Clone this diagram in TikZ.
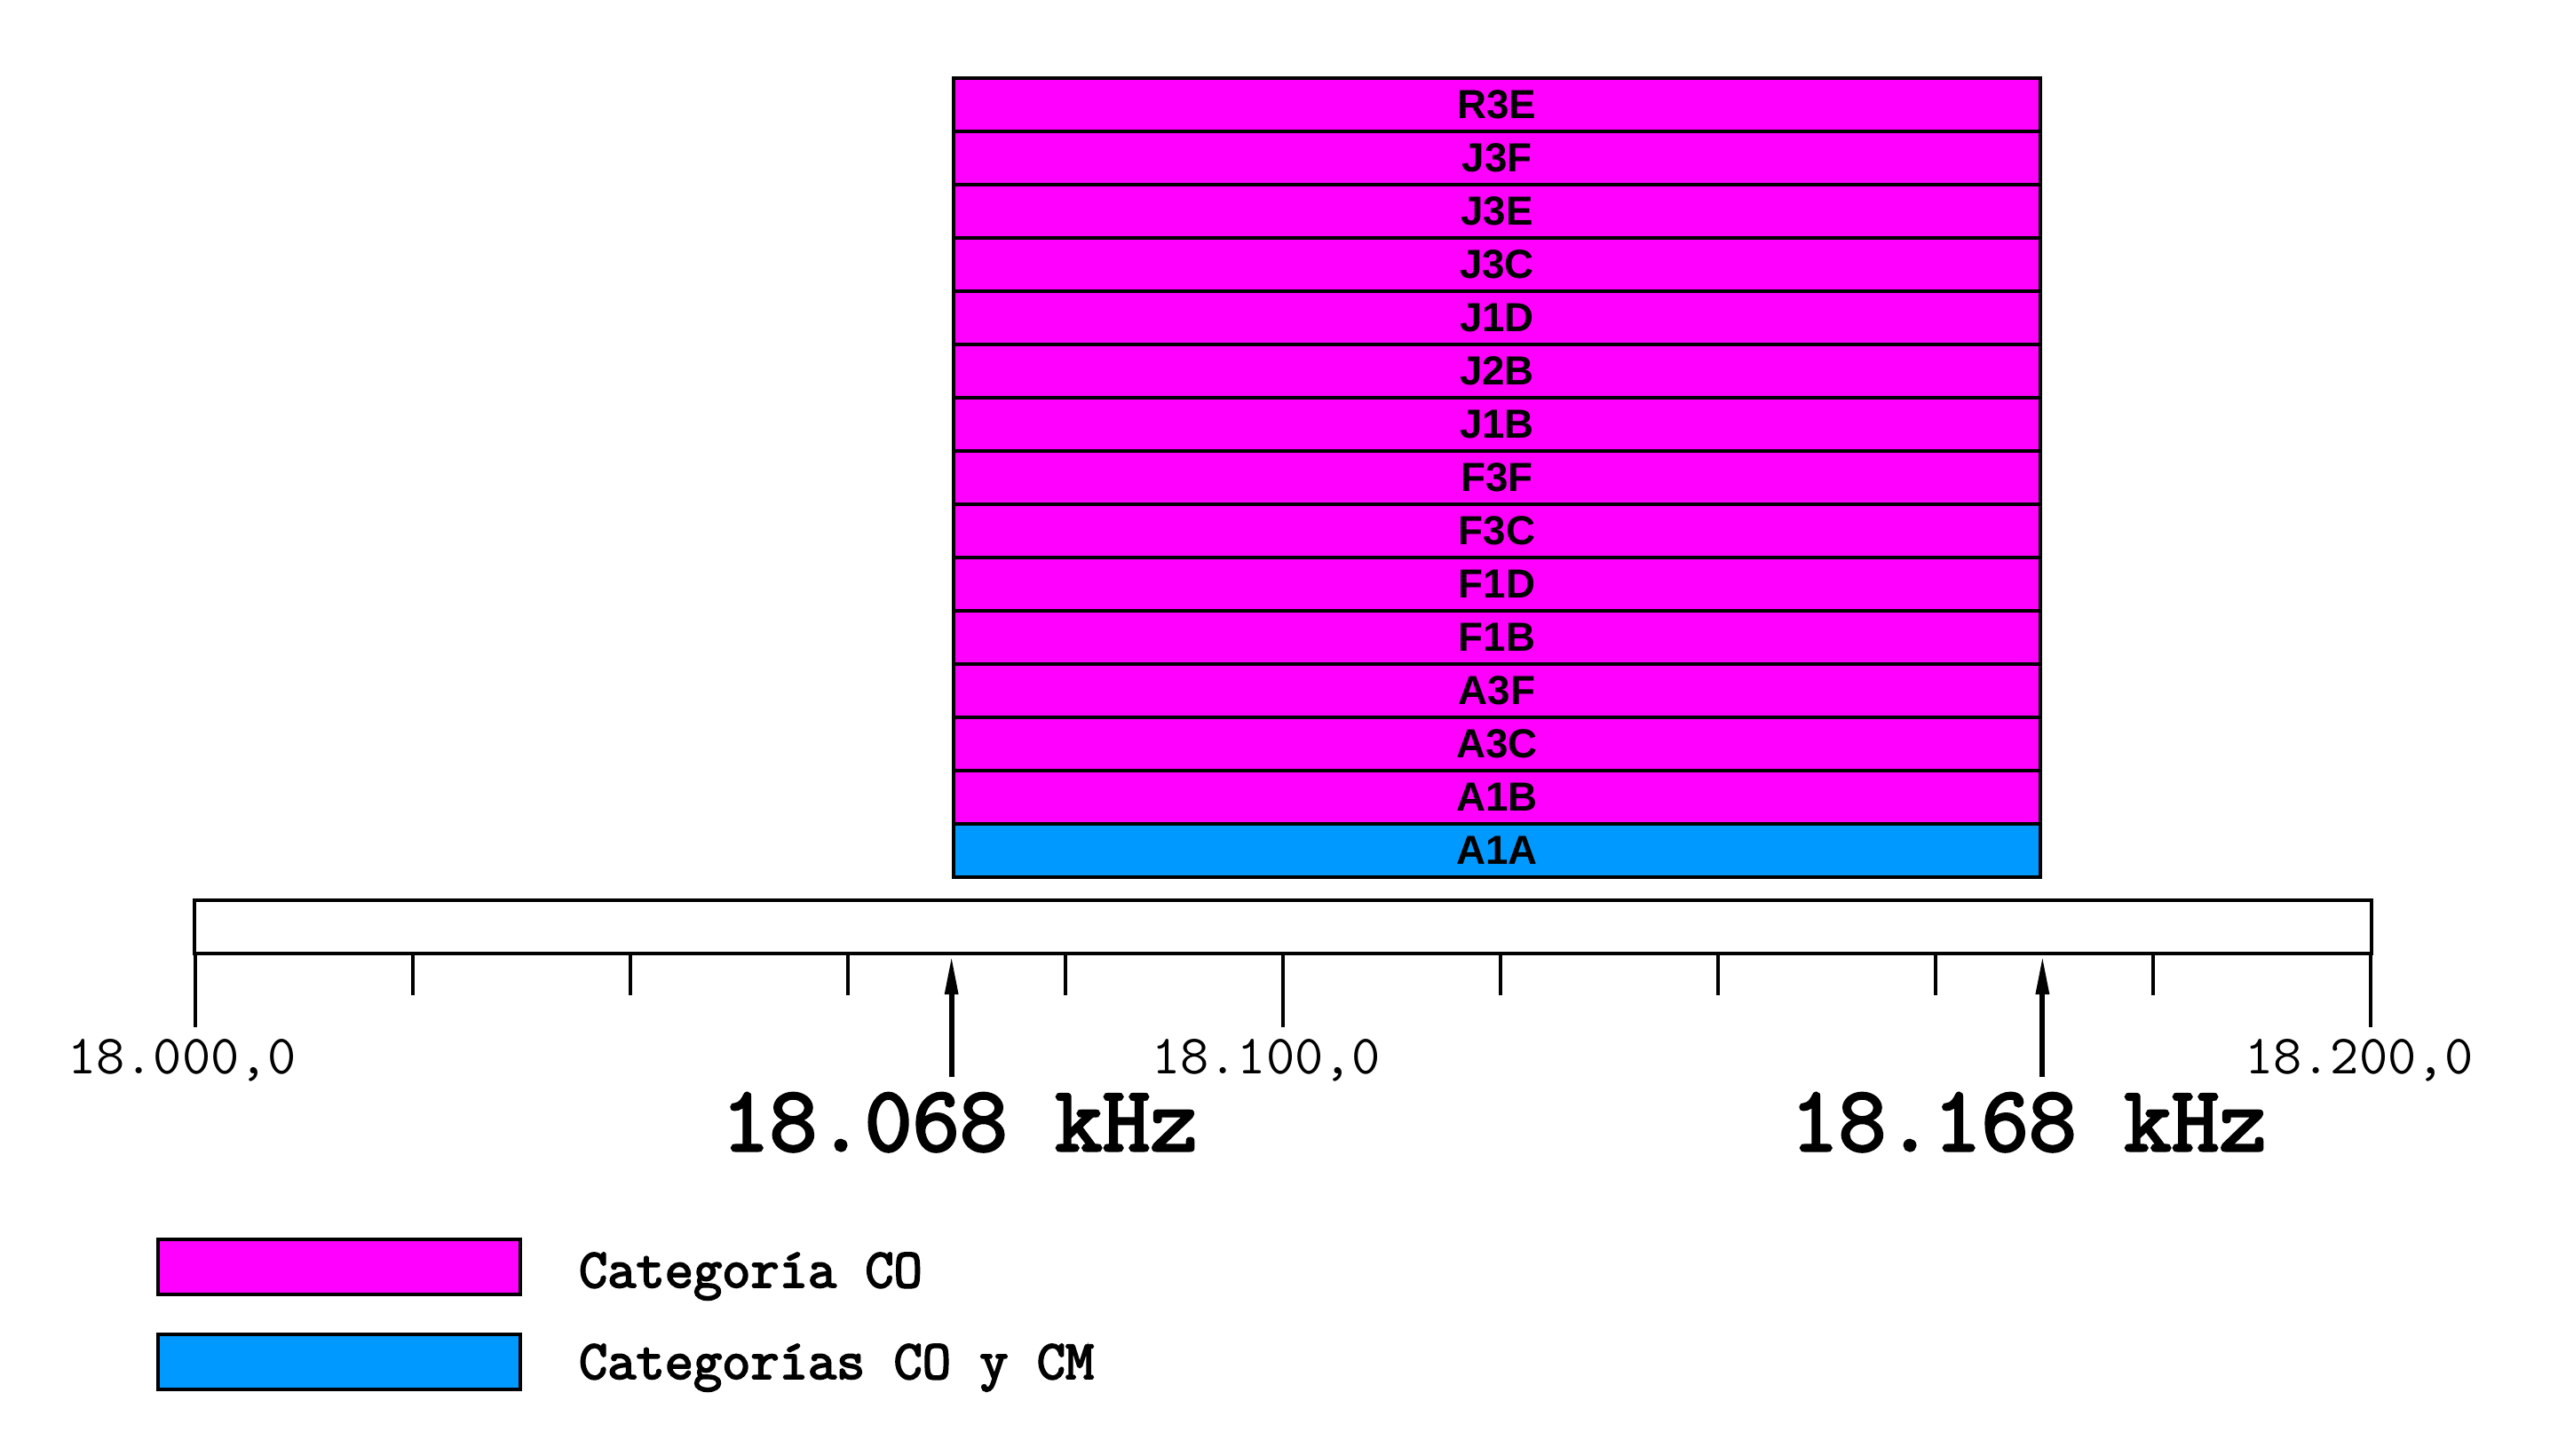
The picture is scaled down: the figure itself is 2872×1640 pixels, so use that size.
\documentclass[tikz,border=0pt]{standalone}
\usepackage{fontspec}
\setmainfont{Liberation Sans}
\setmonofont{Latin Modern Mono}[AutoFakeBold=3]
\usetikzlibrary{arrows.meta, positioning}
\definecolor{cocolor}{HTML}{FF00FF}
\definecolor{cmcolor}{HTML}{0099FF}

\begin{document}
\begin{tikzpicture}[
        x=0.01cm, y=-0.01cm,
        line width=0.04cm,
        band/.style={draw, fill=cocolor, minimum width=12.24cm, minimum height=0.6cm, inner sep=0pt, font=\bfseries\fontsize{13}{15}\selectfont},
        axislabel/.style={anchor=base, inner sep=0pt, font=\ttfamily\fontsize{17.8}{20}\selectfont},
        freqlabel/.style={anchor=base, inner sep=0pt, font=\ttfamily\bfseries\fontsize{29.6}{34}\selectfont},
        legendtext/.style={anchor=base west, inner sep=0pt, font=\ttfamily\bfseries\fontsize{17.8}{20}\selectfont}
        ]
        \useasboundingbox (0,0) rectangle (2872,1640);

        % emission classes
        \foreach \lab [count=\i from 0] in {R3E,J3F,J3E,J3C,J1D,J2B,J1B,F3F,F3C,F1D,F1B,A3F,A3C,A1B}
            \node[band] (row\i) at (1686, 118+60*\i) {\lab};
        \node[band, fill=cmcolor] (row14) at (1686, 958) {A1A};

        % frequency scale
        \node[draw, minimum width=24.5cm, minimum height=0.6cm, inner sep=0pt] (scale) at (1445, 1044) {};
        \foreach \k in {1,2,3,4,6,7,8,9}
            \draw (220+245*\k, 1074) -- ++(0, 47);
        \foreach \k in {0,5,10}
            \draw (220+245*\k, 1074) -- ++(0, 83);

        \node[axislabel] (f0) at (205, 1209) {18.000,0};
        \node[axislabel] (f1) at (1426, 1209) {18.100,0};
        \node[axislabel] (f2) at (2657, 1209) {18.200,0};

        % band edges
        \coordinate (lo) at (row14.south west |- 0,1213);
        \coordinate (hi) at (row14.south east |- 0,1213);
        \draw[-{Triangle[length=0.44cm, width=0.14cm]}, line width=0.06cm] (lo) -- (lo |- scale.south);
        \draw[-{Triangle[length=0.44cm, width=0.14cm]}, line width=0.06cm] (hi) -- (hi |- scale.south);
        \node[freqlabel] (lolabel) at (1081, 1296) {18.068 kHz};
        \node[freqlabel] (hilabel) at (2285, 1296) {18.168 kHz};

        % legend
        \node[draw, fill=cocolor, minimum width=4.08cm, minimum height=0.61cm, inner sep=0pt] (keyco) at (382, 1427) {};
        \node[draw, fill=cmcolor, minimum width=4.08cm, minimum height=0.61cm, inner sep=0pt] (keycm) at (382, 1534) {};
        \node[legendtext] (keycotext) at (650, 1450) {Categoría CO};
        \node[legendtext] (keycmtext) at (650, 1553) {Categorías CO y CM};
    \end{tikzpicture}
\end{document}
